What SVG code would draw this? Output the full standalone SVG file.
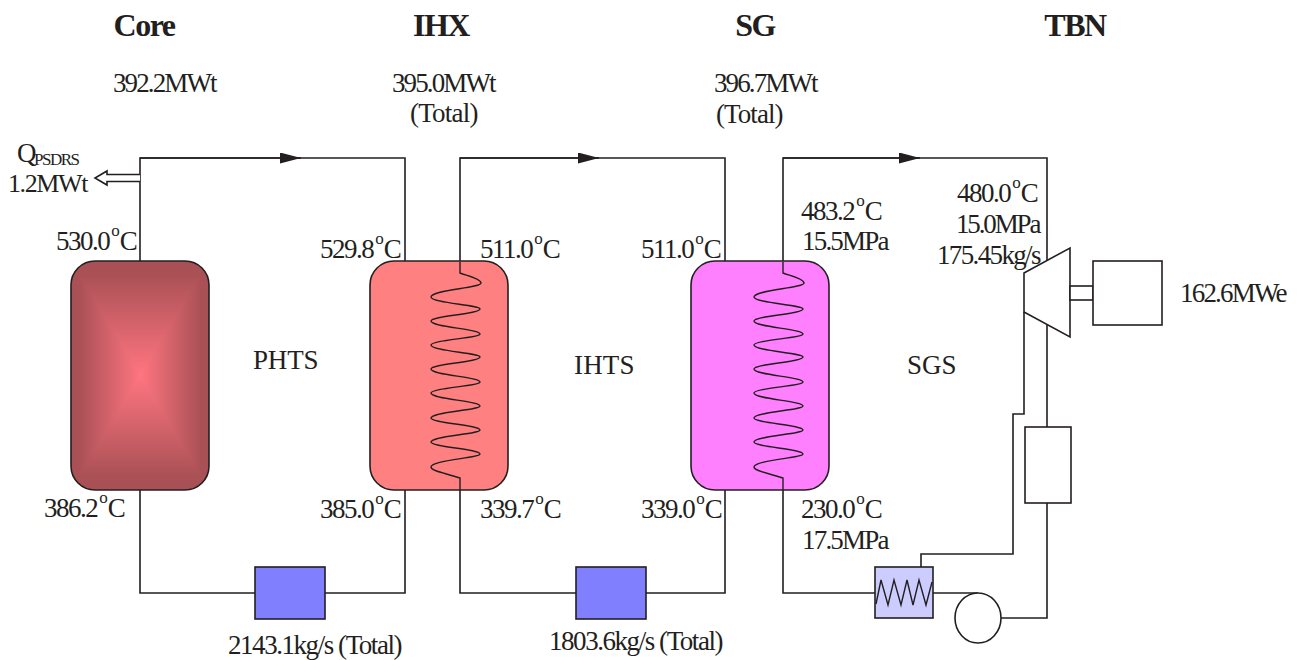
<svg xmlns="http://www.w3.org/2000/svg" width="1298" height="660" viewBox="0 0 1298 660">
<style>
text{font-family:"Liberation Serif","Times New Roman",serif;font-size:27px;fill:#231f20;letter-spacing:-1.5px}
.h{font-size:32px;font-weight:bold}
.m{text-anchor:middle}
.sup{font-size:17px}
.l{fill:none;stroke:#231f20;stroke-width:1.6}
.b{stroke:#231f20;stroke-width:1.6}
.coil{fill:none;stroke:#231f20;stroke-width:1.4}
</style>
<defs>
<marker id="ah" markerUnits="userSpaceOnUse" markerWidth="22" markerHeight="12" refX="21" refY="5.5" orient="auto"><path d="M0 0L21 5.5L0 11z" fill="#231f20"/></marker>
<linearGradient id="gt" x1="0" y1="0" x2="0" y2="1"><stop offset="0" stop-color="#a85055"/><stop offset=".12" stop-color="#aa5156"/><stop offset="1" stop-color="#ff7580"/></linearGradient>
<linearGradient id="gb" x1="0" y1="1" x2="0" y2="0"><stop offset="0" stop-color="#a85055"/><stop offset=".12" stop-color="#aa5156"/><stop offset="1" stop-color="#ff7580"/></linearGradient>
<linearGradient id="gl" x1="0" y1="0" x2="1" y2="0"><stop offset="0" stop-color="#a85055"/><stop offset=".12" stop-color="#aa5156"/><stop offset="1" stop-color="#ff7580"/></linearGradient>
<linearGradient id="gr" x1="1" y1="0" x2="0" y2="0"><stop offset="0" stop-color="#a85055"/><stop offset=".12" stop-color="#aa5156"/><stop offset="1" stop-color="#ff7580"/></linearGradient>
<clipPath id="cc"><rect x="71" y="261" width="138" height="229" rx="24"/></clipPath>
</defs>

<g id="connectors">
<path class="l" d="M140 261V158H405V261"/>
<path class="l" d="M140 158H301" marker-end="url(#ah)"/>
<path class="l" d="M405 490V593H325M255 593H140V490"/>
<path class="l" d="M460 262V158H725V261"/>
<path class="l" d="M460 158H599" marker-end="url(#ah)"/>
<path class="l" d="M460 490V593H576M646 593H725V490"/>
<path class="l" d="M783 262V158H1047V261"/>
<path class="l" d="M783 158H920" marker-end="url(#ah)"/>
<path class="l" d="M783 490V593H875"/>
<path class="l" d="M933 593H978"/>
<path class="l" d="M1001 618H1047V325"/>
<path class="l" d="M1024 312V414H1013V554H921V567"/>
<path d="M140 174.500H107V171L95 178L107 185V181.500H140" fill="#fff" stroke="#231f20" stroke-width="1.6"/>
</g>

<g id="core">
<g clip-path="url(#cc)">
<rect x="71" y="261" width="70" height="229" fill="url(#gl)"/>
<rect x="140" y="261" width="69" height="229" fill="url(#gr)"/>
<polygon points="71,261 209,261 140,375" fill="url(#gt)"/>
<polygon points="71,490 209,490 140,375" fill="url(#gb)"/>
</g>
<rect x="71" y="261" width="138" height="229" rx="24" fill="none" stroke="#231f20" stroke-width="1.6"/>
</g>

<g id="ihx">
<rect class="b" x="370" y="261" width="138" height="229" rx="24" fill="#ff8080"/>
<path class="coil" d="M460 262V273C468 276 481 279 481 283C481 288 431 290 431 297C431 303 480 305 480 309C480 314 431 316 431 321C431 327 480 329 480 334C480 338 431 340 431 345C431 351 480 353 480 357C480 362 431 364 431 369C431 375 480 377 480 382C480 386 431 388 431 393C431 399 480 401 480 406C480 410 431 412 431 418C431 423 480 425 480 430C480 434 431 436 431 442C431 447 480 449 480 454C480 458 431 460 431 467C431 471 445 473 460 478V490"/>
</g>

<g id="sg">
<rect class="b" x="691" y="261" width="138" height="229" rx="24" fill="#ff80ff"/>
<path class="coil" d="M783 262V273C791 276 804 279 804 283C804 288 754 290 754 297C754 303 803 305 803 309C803 314 754 316 754 321C754 327 803 329 803 334C803 338 754 340 754 345C754 351 803 353 803 357C803 362 754 364 754 369C754 375 803 377 803 382C803 386 754 388 754 393C754 399 803 401 803 406C803 410 754 412 754 418C754 423 803 425 803 430C803 434 754 436 754 442C754 447 803 449 803 454C803 458 754 460 754 467C754 471 768 473 783 478V490"/>
</g>

<g id="pump1"><rect class="b" x="255" y="567" width="70" height="52" fill="#8080ff"/></g>
<g id="pump2"><rect class="b" x="576" y="567" width="70" height="52" fill="#8080ff"/></g>

<g id="heater">
<rect class="b" x="875" y="567" width="58" height="51" fill="#ccccff"/>
<path class="coil" d="M876 604L881 580L888 605L894 580L901 605L907 580L913 605L919 580L926 605L932 582"/>
</g>
<g id="feedpump"><ellipse class="b" cx="978" cy="618" rx="23" ry="25" fill="#fff"/></g>
<g id="condenser"><rect class="b" x="1025" y="427" width="46" height="76" fill="#fff"/></g>
<g id="turbine"><polygon class="b" points="1024,273 1070,248 1070,337 1024,312" fill="#fff"/></g>
<g id="shaft"><rect class="b" x="1070" y="286" width="23" height="14" fill="#fff"/></g>
<g id="generator"><rect class="b" x="1093" y="261" width="69" height="64" fill="#fff"/></g>

<g id="labels">
<text class="h m" x="144" y="36">Core</text>
<text class="h m" x="441" y="36">IHX</text>
<text class="h m" x="755" y="36">SG</text>
<text class="h m" x="1075" y="36">TBN</text>
<text x="113" y="92" textLength="103">392.2MWt</text>
<text x="392" y="92" textLength="103">395.0MWt</text>
<text x="410" y="122" textLength="67">(Total)</text>
<text x="714" y="92" textLength="103">396.7MWt</text>
<text x="716" y="123" textLength="66">(Total)</text>
<text x="17" y="162">Q<tspan font-size="17" dy="3" dx="-1">PSDRS</tspan></text>
<text x="8" y="192" textLength="79" style="font-size:26px">1.2MWt</text>
<text x="56" y="250">530.0<tspan class="sup" dy="-14" dx="2">o</tspan><tspan dy="14" dx="1.500">C</tspan></text>
<text x="320" y="258">529.8<tspan class="sup" dy="-14" dx="2">o</tspan><tspan dy="14" dx="1.500">C</tspan></text>
<text x="480" y="258">511.0<tspan class="sup" dy="-14" dx="2">o</tspan><tspan dy="14" dx="1.500">C</tspan></text>
<text x="641" y="258">511.0<tspan class="sup" dy="-14" dx="2">o</tspan><tspan dy="14" dx="1.500">C</tspan></text>
<text x="801" y="220">483.2<tspan class="sup" dy="-14" dx="2">o</tspan><tspan dy="14" dx="1.500">C</tspan></text>
<text x="802" y="250" textLength="86">15.5MPa</text>
<text x="957" y="202">480.0<tspan class="sup" dy="-14" dx="2">o</tspan><tspan dy="14" dx="1.500">C</tspan></text>
<text x="956" y="233" textLength="84">15.0MPa</text>
<text x="937" y="264" textLength="103">175.45kg/s</text>
<text x="1180" y="302" textLength="106">162.6MWe</text>
<text x="253" y="369" textLength="64">PHTS</text>
<text x="574" y="374" textLength="59">IHTS</text>
<text x="907" y="374" textLength="48">SGS</text>
<text x="44" y="517">386.2<tspan class="sup" dy="-14" dx="2">o</tspan><tspan dy="14" dx="1.500">C</tspan></text>
<text x="320" y="518">385.0<tspan class="sup" dy="-14" dx="2">o</tspan><tspan dy="14" dx="1.500">C</tspan></text>
<text x="480" y="518">339.7<tspan class="sup" dy="-14" dx="2">o</tspan><tspan dy="14" dx="1.500">C</tspan></text>
<text x="641" y="518">339.0<tspan class="sup" dy="-14" dx="2">o</tspan><tspan dy="14" dx="1.500">C</tspan></text>
<text x="801" y="518">230.0<tspan class="sup" dy="-14" dx="2">o</tspan><tspan dy="14" dx="1.500">C</tspan></text>
<text x="802" y="549" textLength="86">17.5MPa</text>
<text x="228" y="654" textLength="173">2143.1kg/s (Total)</text>
<text x="549" y="650" textLength="173">1803.6kg/s (Total)</text>
</g>
</svg>
